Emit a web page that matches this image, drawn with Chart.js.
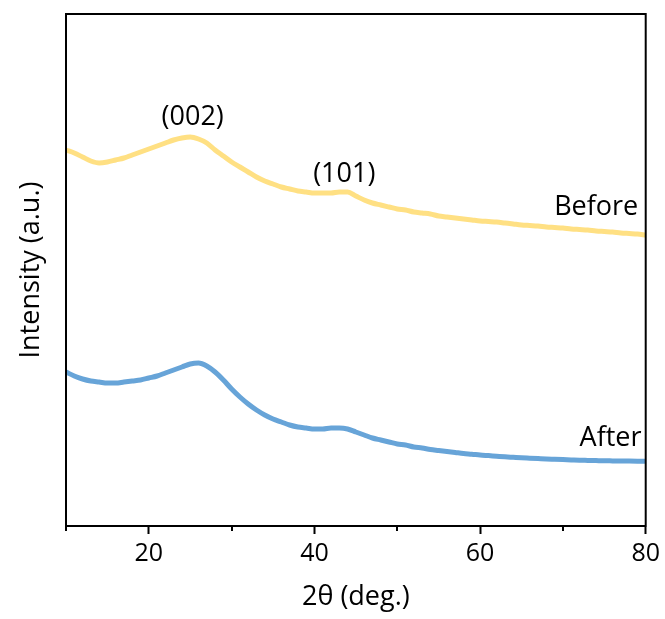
<!DOCTYPE html>
<html>
<head>
<meta charset="utf-8">
<script src="https://cdn.jsdelivr.net/npm/chart.js@4/dist/chart.umd.min.js"></script>
<style>
  html, body { margin: 0; padding: 0; background: #fff; }
  #wrap { width: 665px; height: 619px; }
</style>
</head>
<body>
<div id="wrap"><canvas id="xrdChart"></canvas></div>
<script>
// 2-theta positions (deg.)
const twoTheta = [10, 11, 12, 13, 14, 15, 16, 17, 18, 19, 20, 21, 22, 23, 24, 25, 26, 27, 28, 29,
                  30, 31, 32, 33, 34, 35, 36, 37, 38, 39, 40, 41, 42, 43, 44, 45, 46, 47, 48, 49,
                  50, 51, 52, 53, 54, 55, 56, 57, 58, 59, 60, 61, 62, 63, 64, 65, 66, 67, 68, 69,
                  70, 71, 72, 73, 74, 75, 76, 77, 78, 79, 80];

// intensities, arbitrary units (offset stacked)
const beforeCounts = [376, 373, 369, 365, 363, 364, 366, 368, 371, 374, 377, 380, 383, 386, 388, 389, 387, 383, 376, 370,
                      364, 359, 354, 349, 345, 342, 339, 337, 335, 334, 333, 333, 333, 334, 334, 330, 326, 323, 321, 319,
                      317, 316, 314, 313, 312, 310, 309, 308, 307, 306, 305, 304.5, 304, 303, 302, 301, 300.5, 300, 299, 298.5,
                      298, 297, 296.5, 296, 295, 294.5, 294, 293, 292.5, 292, 291];
const afterCounts = [154, 150, 147, 145, 144, 143, 143, 144, 145, 146, 148, 150, 153, 156, 159, 162, 163, 160, 154, 146,
                     137, 129, 122, 116, 111, 107, 104, 101, 99, 98, 97, 97, 98, 98, 97, 94, 91, 88, 86, 84,
                     82, 81, 79, 78, 76.5, 75.5, 74.5, 73.5, 72.5, 71.8, 71, 70.4, 69.8, 69.2, 68.7, 68.2, 67.8, 67.4, 67, 66.7,
                     66.4, 66.1, 65.8, 65.6, 65.4, 65.2, 65.1, 65, 64.9, 64.8, 64.7];

const seriesNames = ["Before", "After"];
const xLabelTicks = [20, 40, 60, 80];
const minorTicks = [10, 30, 50, 70];

const FONT = "'Open Sans', sans-serif";

function toPoints(ys) {
  return twoTheta.map((t, i) => ({ x: t, y: ys[i] }));
}

// frame, minor ticks and the text labels on the plot
const decorations = {
  id: "decorations",
  afterDraw(chart) {
    const { ctx, chartArea: a, scales } = chart;
    const x = scales.x, y = scales.y;
    ctx.save();
    ctx.strokeStyle = "#000";
    ctx.lineWidth = 2;
    ctx.strokeRect(a.left, a.top, a.right - a.left, a.bottom - a.top);

    ctx.beginPath();
    minorTicks.forEach(v => {
      const px = Math.round(x.getPixelForValue(v));
      ctx.moveTo(px, a.bottom);
      ctx.lineTo(px, a.bottom + 5);
    });
    ctx.stroke();

    ctx.fillStyle = "#000";
    ctx.font = "27px " + FONT;
    ctx.textBaseline = "middle";
    ctx.textAlign = "center";
    ctx.fillText("(002)", x.getPixelForValue(25.3), y.getPixelForValue(409));
    ctx.fillText("(101)", x.getPixelForValue(43.6), y.getPixelForValue(352));
    ctx.textAlign = "right";
    ctx.fillText(seriesNames[0], x.getPixelForValue(79.1), y.getPixelForValue(319));
    ctx.fillText(seriesNames[1], x.getPixelForValue(79.5), y.getPixelForValue(88));
    ctx.restore();
  }
};

new Chart(document.getElementById("xrdChart"), {
  type: "line",
  data: {
    datasets: [{
      label: seriesNames[0],
      data: toPoints(beforeCounts),
      borderColor: "#FFE083",
      borderWidth: 5,
      pointRadius: 0,
      cubicInterpolationMode: "monotone",
      fill: false
    }, {
      label: seriesNames[1],
      data: toPoints(afterCounts),
      borderColor: "#67A4D8",
      borderWidth: 5,
      pointRadius: 0,
      cubicInterpolationMode: "monotone",
      fill: false
    }]
  },
  options: {
    responsive: true,
    maintainAspectRatio: false,
    animation: false,
    layout: { padding: { left: 0, right: 19, top: 14, bottom: 0 } },
    plugins: {
      legend: { display: false },
      tooltip: { enabled: false }
    },
    scales: {
      x: {
        type: "linear",
        min: 10,
        max: 80,
        afterFit(scale) { scale.height = 93; },
        afterBuildTicks(scale) {
          scale.ticks = twoTheta.filter(v => v % 10 === 0).map(v => ({ value: v }));
        },
        ticks: {
          autoSkip: false,
          maxRotation: 0,
          padding: 5,
          color: "#000",
          font: { family: FONT, size: 25 },
          callback: v => (xLabelTicks.includes(v) ? v : "")
        },
        grid: {
          drawOnChartArea: false,
          tickLength: 8,
          tickWidth: 2,
          tickColor: c => (c.tick && xLabelTicks.includes(c.tick.value) ? "#000" : "rgba(0,0,0,0)")
        },
        border: { display: true, color: "#000", width: 2 },
        title: {
          display: true,
          text: "2θ (deg.)",
          color: "#000",
          font: { family: FONT, size: 27 },
          padding: { top: 0, bottom: 5 }
        }
      },
      y: {
        min: 0,
        max: 512,
        afterFit(scale) { scale.width = 66; },
        ticks: { display: false },
        grid: { display: false },
        border: { display: true, color: "#000", width: 2 },
        title: {
          display: true,
          text: "Intensity (a.u.)",
          color: "#000",
          font: { family: FONT, size: 27 },
          padding: { top: 15, bottom: 0 }
        }
      }
    }
  },
  plugins: [decorations]
});
</script>
</body>
</html>
